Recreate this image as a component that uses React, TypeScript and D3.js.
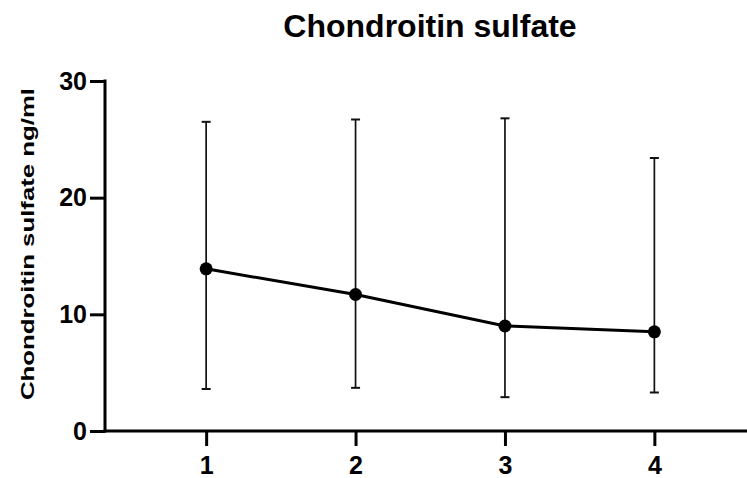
import React, { useEffect, useRef } from 'react';
import * as d3 from 'd3';

// data
const timepoints = [1, 2, 3, 4];
const means = [13.9, 11.7, 9.0, 8.5];
const lower = [3.6, 3.7, 2.9, 3.3];
const upper = [26.5, 26.7, 26.8, 23.4];
const yTicks = [0, 10, 20, 30];

const title = 'Chondroitin sulfate';
const yLabel = 'Chondroitin sulfate ng/ml';

const App: React.FC = () => {
  const svgRef = useRef<SVGSVGElement>(null);

  useEffect(() => {
    if (!svgRef.current) {return;}
    document.body.style.margin = '0';

    const svg = d3.select(svgRef.current);
    svg.selectAll('*').remove();

    const font = '"Liberation Sans", Arial, sans-serif';

    const x = d3.scaleLinear().domain([0.323, 4.62]).range([105, 747]);
    const y = d3.scaleLinear().domain([0, 30]).range([431, 81]);

    const data = timepoints.map((t, i) => ({ t, m: means[i], lo: lower[i], hi: upper[i] }));

    // y axis
    const yAxis = d3.axisLeft(y).tickValues(yTicks).tickSize(15).tickPadding(3);
    const gy = svg.append('g')
      .attr('transform', `translate(${x.range()[0]},0)`)
      .call(yAxis);
    gy.select('.domain').attr('stroke-width', 3).attr('d', `M0,${y(30) - 1.5}V${y(0) + 1.5}`);
    gy.selectAll('.tick line').attr('stroke-width', 3);
    gy.selectAll('.tick text')
      .attr('font-family', font)
      .attr('font-weight', 'bold')
      .attr('font-size', 25)
      .attr('fill', '#000');

    // x axis
    const xAxis = d3.axisBottom(x).tickValues(timepoints).tickSize(15).tickPadding(10)
      .tickFormat(d3.format('d'));
    const gx = svg.append('g')
      .attr('transform', `translate(0,${y(0)})`)
      .call(xAxis);
    gx.select('.domain').attr('stroke-width', 3).attr('d', `M${x.range()[0] - 1.5},0H${x.range()[1]}`);
    gx.selectAll('.tick line').attr('stroke-width', 3);
    gx.selectAll('.tick text')
      .attr('font-family', font)
      .attr('font-weight', 'bold')
      .attr('font-size', 25)
      .attr('fill', '#000');

    // error bars
    const bars = svg.append('g').attr('stroke', '#111').attr('stroke-width', 1.7);
    bars.selectAll('.whisker')
      .data(data)
      .enter()
      .append('line')
      .attr('x1', d => x(d.t))
      .attr('x2', d => x(d.t))
      .attr('y1', d => y(d.lo))
      .attr('y2', d => y(d.hi));
    bars.selectAll('.cap-top')
      .data(data)
      .enter()
      .append('line')
      .attr('x1', d => x(d.t) - 4.5)
      .attr('x2', d => x(d.t) + 4.5)
      .attr('y1', d => y(d.hi))
      .attr('y2', d => y(d.hi))
      .attr('stroke-width', 2);
    bars.selectAll('.cap-bottom')
      .data(data)
      .enter()
      .append('line')
      .attr('x1', d => x(d.t) - 4.5)
      .attr('x2', d => x(d.t) + 4.5)
      .attr('y1', d => y(d.lo))
      .attr('y2', d => y(d.lo))
      .attr('stroke-width', 2);

    // mean line + dots
    const line = d3.line<typeof data[number]>()
      .x(d => x(d.t))
      .y(d => y(d.m));
    svg.append('path')
      .datum(data)
      .attr('d', line)
      .attr('fill', 'none')
      .attr('stroke', '#000')
      .attr('stroke-width', 3);
    svg.selectAll('.dot')
      .data(data)
      .enter()
      .append('circle')
      .attr('cx', d => x(d.t))
      .attr('cy', d => y(d.m))
      .attr('r', 6.5)
      .attr('fill', '#000');

    // title
    svg.append('text')
      .attr('x', 430)
      .attr('y', 37)
      .attr('text-anchor', 'middle')
      .attr('font-family', font)
      .attr('font-weight', 'bold')
      .attr('font-size', 32)
      .attr('fill', '#000')
      .text(title);

    // y label (stretched like the source figure)
    svg.append('text')
      .attr('transform', 'translate(34,244) rotate(-90)')
      .attr('text-anchor', 'middle')
      .attr('font-family', font)
      .attr('font-weight', 'bold')
      .attr('font-size', 19)
      .attr('textLength', 312)
      .attr('lengthAdjust', 'spacingAndGlyphs')
      .attr('fill', '#000')
      .text(yLabel);
  }, []);

  return (
    <svg ref={svgRef} width={747} height={478} style={{ display: 'block', background: '#fff' }} />
  );
};

export default App;
